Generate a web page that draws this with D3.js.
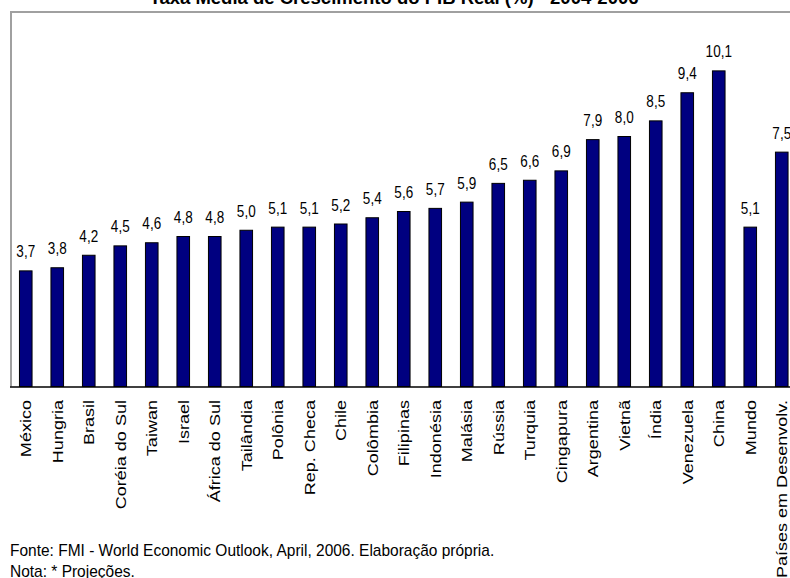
<!DOCTYPE html>
<html>
<head>
<meta charset="utf-8">
<script src="https://cdn.jsdelivr.net/npm/d3@7"></script>
<style>
  html, body { margin: 0; padding: 0; background: #fff; }
  svg { display: block; }
  text { font-family: "Liberation Sans", Arial, sans-serif; fill: #000; }
</style>
</head>
<body>
<svg id="chart" width="790" height="578"></svg>
<script>
const title = "Taxa Média de Crescimento do PIB Real (%) - 2004-2006";
const categories = ["México","Hungria","Brasil","Coréia do Sul","Taiwan","Israel","África do Sul","Tailândia","Polônia","Rep. Checa","Chile","Colômbia","Filipinas","Indonésia","Malásia","Rússia","Turquia","Cingapura","Argentina","Vietnã","Índia","Venezuela","China","Mundo","Países em Desenvolv."];
const values = [3.7,3.8,4.2,4.5,4.6,4.8,4.8,5.0,5.1,5.1,5.2,5.4,5.6,5.7,5.9,6.5,6.6,6.9,7.9,8.0,8.5,9.4,10.1,5.1,7.5];
const valueDomain = [0, 12];
const footnotes = ["Fonte: FMI - World Economic Outlook, April, 2006. Elaboração própria.", "Nota: * Projeções."];

const svg = d3.select("#chart");
const plotLeft = 10, plotTop = 12, baseY = 386.5;

const x = d3.scaleBand().domain(categories).range([10, 797.5]).paddingInner(0.6).paddingOuter(0.3);
const y = d3.scaleLinear().domain(valueDomain).range([baseY, 11.5]);

// title
svg.append("text").attr("x", 394).attr("y", 4).attr("text-anchor", "middle")
  .attr("font-size", 18.5).attr("font-weight", "bold").text(title);

// frame (top & left gray)
svg.append("path").attr("d", `M${plotLeft+1},${baseY} V${plotTop} H790`)
  .attr("fill", "none").attr("stroke", "#a0a0a0").attr("stroke-width", 2);

// bars
svg.append("g").selectAll("rect").data(categories).join("rect")
  .attr("x", d => x(d)).attr("width", x.bandwidth())
  .attr("y", (d, i) => y(values[i])).attr("height", (d, i) => y(0) - y(values[i]))
  .attr("fill", "#000080").attr("stroke", "#000").attr("stroke-width", 1);

// baseline axis
const xAxis = d3.axisBottom(x).tickSize(0).tickFormat("");
const ax = svg.append("g").attr("transform", `translate(0,${baseY + 0.5})`).call(xAxis);
ax.select(".domain").attr("stroke", "#000").attr("stroke-width", 1.5).attr("d", `M${plotLeft},0H790`);

// value labels
svg.append("g").selectAll("g").data(categories).join("g")
  .attr("transform", (d, i) => `translate(${x(d) + x.bandwidth() / 2},${y(values[i]) - 13.5}) scale(1,1.2)`)
  .append("text").attr("text-anchor", "middle").attr("font-size", 13.5)
  .text((d, i) => d3.format(".1f")(values[i]).replace(".", ","));

// category labels
svg.append("g").selectAll("g").data(categories).join("g")
  .attr("transform", d => `translate(${x(d) + x.bandwidth() / 2},400) scale(1,1.18) rotate(-90)`)
  .append("text").attr("text-anchor", "end").attr("dy", "0.35em").attr("font-size", 15.3)
  .text(d => d);

// footnotes
svg.append("g").selectAll("g").data(footnotes).join("g")
  .attr("transform", (d, i) => `translate(10,${556 + i * 21}) scale(1,1.12)`)
  .append("text").attr("font-size", 15.5).text(d => d);
</script>
</body>
</html>
